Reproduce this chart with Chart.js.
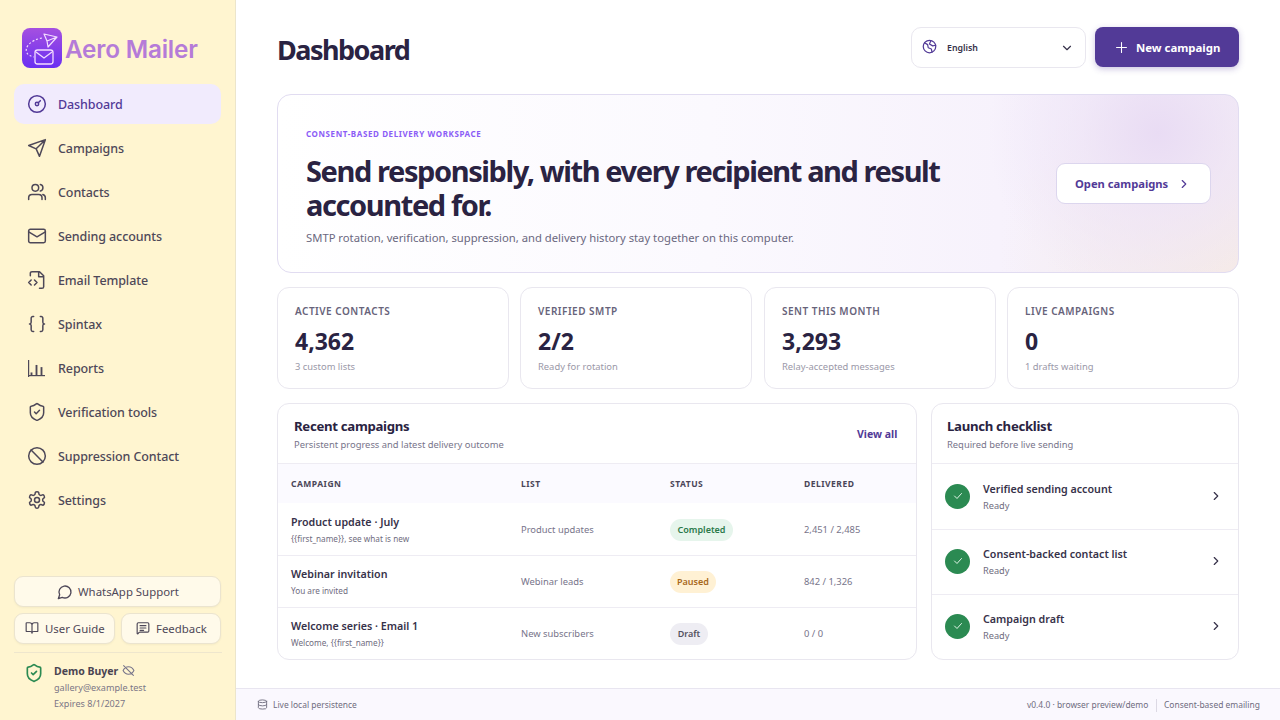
<!DOCTYPE html>
<html lang="en">
<head>
<meta charset="utf-8">
<title>Aero Mailer - Dashboard</title>
<script src="https://cdn.jsdelivr.net/npm/chart.js@4"></script>
<style>
  * { box-sizing: border-box; }
  html, body { margin: 0; width: 1280px; height: 720px; overflow: hidden; background: #fff; }
  body { font-family: "Noto Sans", sans-serif; color: #2a2342; position: relative; }
  .t { position: absolute; white-space: nowrap; line-height: 1; transform: translateY(-50%); }
  .box { position: absolute; background: #fff; border: 1px solid #e9e7ef; }
  .line { position: absolute; background: #eeecf3; height: 1px; }
  svg.i { position: absolute; fill: none; stroke: currentColor; stroke-width: 2; stroke-linecap: round; stroke-linejoin: round; }
  #sidebar { position: absolute; left: 0; top: 0; width: 236px; height: 720px; background: #fff5d0; border-right: 1px solid #ece5cb; }
  #active { position: absolute; left: 14px; top: 84px; width: 207px; height: 40px; background: #f1ebfd; border-radius: 10px; }
  .nav { font-size: 12.5px; font-weight: 500; letter-spacing: -0.1px; color: #4e4858; left: 58px; }
  .sbtn { position: absolute; background: #fffaea; border: 1px solid #ebe4cf; border-radius: 9px; box-shadow: 0 1px 2px rgba(60,50,20,.05); }
  .sbtn-t { font-size: 11.4px; color: #4e4858; }
  #hero { position: absolute; left: 277px; top: 94px; width: 962px; height: 179px; border: 1px solid #e1dcf1; border-radius: 14px;
    background: radial-gradient(circle 170px at 880px 38px, #e9dcf4 0%, rgba(238,228,247,.7) 45%, rgba(248,244,252,0) 100%),
      radial-gradient(circle 240px at 960px 185px, #f6ebe6 0%, rgba(248,240,240,0) 100%),
      linear-gradient(90deg, #fff 0%, #fbf9fe 45%, #f7f2fc 75%, #f2ecf8 100%); }
  #heroTitle { position: absolute; left: 306px; top: 154px; font-size: 29px; line-height: 34px; font-weight: 700; letter-spacing: -1.4px; white-space: nowrap; color: #2a2342; }
  .lbl { font-size: 10px; font-weight: 600; color: #67637a; letter-spacing: .5px; }
  .val { font-size: 23px; font-weight: 700; color: #2a2342; }
  .sub { font-size: 9.4px; color: #9a98a8; }
  .th { font-size: 8.5px; font-weight: 700; color: #4a4658; letter-spacing: .5px; }
  .name { font-size: 10.7px; font-weight: 600; color: #37324a; }
  .small { font-size: 8.2px; color: #6f6c7e; }
  .cell { font-size: 9.4px; color: #77748a; }
  .ptitle { font-size: 13.2px; font-weight: 700; letter-spacing: -0.3px; color: #2a2342; }
  .badge { position: absolute; height: 22px; border-radius: 11px; font-size: 9px; font-weight: 600; line-height: 22px; text-align: center; }
  #footer { position: absolute; left: 236px; top: 688px; width: 1044px; height: 32px; background: #faf8fe; border-top: 1px solid #e8e5f0; }
  .foot { font-size: 8.45px; color: #6f6c7e; }
</style>
</head>
<body>

<div id="sidebar"></div>
<svg style="position:absolute;left:22px;top:28px" width="40" height="40" viewBox="0 0 40 40">
  <defs><linearGradient id="lg" x1="0" y1="0" x2="0" y2="1"><stop offset="0" stop-color="#a550e0"/><stop offset="1" stop-color="#6a2ff2"/></linearGradient></defs>
  <rect width="40" height="40" rx="8" fill="url(#lg)"/>
  <path d="M22 6 L35 9 L26 19 L25 13 Z M25 13 L35 9" fill="none" stroke="#f3dcff" stroke-width="1.2" stroke-linejoin="round"/>
  <path d="M20 10 C8 12 2 20 5 25 C6 27 8 28 12 29" fill="none" stroke="#f3dcff" stroke-width="1.2" stroke-dasharray="2 2"/>
  <rect x="13" y="22" width="18" height="14" rx="2.5" fill="none" stroke="#f3dcff" stroke-width="1.3"/>
  <path d="M14 24 L22 30 L30 24" fill="none" stroke="#f3dcff" stroke-width="1.3"/>
</svg>
<div class="t" style="left:65px;top:49px;font-family:Inter,sans-serif;font-size:24.3px;font-weight:600;color:#b57bd8;letter-spacing:-.2px">Aero Mailer</div>
<div id="active"></div>
<div id="navHost"></div>
<!-- Reports icon: the only data marks on this screen, drawn by Chart.js -->
<canvas id="reportsIcon" width="20" height="20" style="position:absolute;left:27px;top:359px;width:20px;height:20px"></canvas>

<div class="sbtn" style="left:14px;top:576px;width:207px;height:31px"></div>
<svg class="i" viewBox="0 0 24 24" width="16" height="16" style="left:57px;top:584px;color:#4e4858"><path d="M7.9 20A9 9 0 1 0 4 16.1L2 22Z"/></svg>
<div class="t sbtn-t" style="left:78px;top:591.5px">WhatsApp Support</div>
<div class="sbtn" style="left:14px;top:613px;width:101px;height:31px"></div>
<svg class="i" viewBox="0 0 24 24" width="14" height="14" style="left:25px;top:621px;color:#4e4858"><path d="M12 7v14M3 18a1 1 0 0 1-1-1V4a1 1 0 0 1 1-1h5a4 4 0 0 1 4 4 4 4 0 0 1 4-4h5a1 1 0 0 1 1 1v13a1 1 0 0 1-1 1h-6a3 3 0 0 0-3 3 3 3 0 0 0-3-3z"/></svg>
<div class="t sbtn-t" style="left:45px;top:628.5px">User Guide</div>
<div class="sbtn" style="left:121px;top:613px;width:100px;height:31px"></div>
<svg class="i" viewBox="0 0 24 24" width="14" height="14" style="left:136px;top:621px;color:#4e4858"><path d="M22 17a2 2 0 0 1-2 2H6.8a2 2 0 0 0-1.4.6l-2.2 2.2A.7.7 0 0 1 2 21.3V5a2 2 0 0 1 2-2h16a2 2 0 0 1 2 2zM7 8h10M7 12h10M7 16h6"/></svg>
<div class="t sbtn-t" style="left:156px;top:628.5px">Feedback</div>
<div class="line" style="left:14px;top:652px;width:208px;background:#eee6cd"></div>
<svg class="i" viewBox="0 0 24 24" width="20" height="20" style="left:24px;top:663px;color:#2b8a52"><path d="M20 13c0 5-3.5 7.5-7.7 9a1 1 0 0 1-.6 0C7.5 20.5 4 18 4 13V6a1 1 0 0 1 1-1c2 0 4.5-1.2 6.2-2.7a1.2 1.2 0 0 1 1.6 0C14.5 3.8 17 5 19 5a1 1 0 0 1 1 1zM9 12l2 2 4-4"/></svg>
<div class="t" style="left:54px;top:671px;font-size:10.5px;font-weight:700;color:#4a4452">Demo Buyer</div>
<svg class="i" viewBox="0 0 24 24" width="13" height="13" style="left:122px;top:664px;color:#77748a"><path d="M2 12s3.5-7 10-7 10 7 10 7-3.500 7-10 7-10-7-10-7zM3 3l18 18"/></svg>
<div class="t" style="left:54px;top:688px;font-size:9.1px;color:#7b7686">gallery@example.test</div>
<div class="t" style="left:54px;top:704px;font-size:9.1px;color:#7b7686">Expires 8/1/2027</div>

<div class="t" style="left:277px;top:48.5px;font-size:27px;font-weight:700;letter-spacing:-1.5px;color:#2a2342">Dashboard</div>
<div class="box" style="left:911px;top:27px;width:175px;height:41px;border-radius:10px"></div>
<svg class="i" viewBox="0 0 24 24" width="15" height="15" style="left:922px;top:39px;color:#523a97"><circle cx="12" cy="12" r="10"/><path d="M4 6l5 3 1 5 5 2 1 5M14 3l-2 5 5 3 5-1"/></svg>
<div class="t" style="left:947px;top:48px;font-size:8.8px;font-weight:600;color:#37324a">English</div>
<svg class="i" viewBox="0 0 24 24" width="14" height="14" style="left:1060px;top:41px;color:#37324a"><path d="M6 9l6 6 6-6"/></svg>
<div style="position:absolute;left:1095px;top:27px;width:144px;height:40px;background:#523a97;border-radius:8px;box-shadow:0 2px 6px rgba(82,58,151,.3)"></div>
<svg class="i" viewBox="0 0 24 24" width="17" height="17" style="left:1113px;top:39px;color:#fff;stroke-width:1.5"><path d="M5 12h14M12 5v14"/></svg>
<div class="t" style="left:1136px;top:47.5px;font-size:11.4px;font-weight:700;color:#fff">New campaign</div>

<div id="hero"></div>
<div class="t" style="left:306px;top:134px;font-size:8px;font-weight:700;color:#8b5cf6;letter-spacing:.6px">CONSENT-BASED DELIVERY WORKSPACE</div>
<div id="heroTitle">Send responsibly, with every recipient and result<br>accounted for.</div>
<div class="t" style="left:306px;top:238px;font-size:11.25px;color:#6b6880">SMTP rotation, verification, suppression, and delivery history stay together on this computer.</div>
<div class="box" style="left:1056px;top:163px;width:155px;height:41px;border-radius:9px;border-color:#dcd6ee"></div>
<div class="t" style="left:1075px;top:184px;font-size:11.2px;font-weight:700;color:#523a97">Open campaigns</div>
<svg class="i" viewBox="0 0 24 24" width="14" height="14" style="left:1177px;top:177px;color:#523a97"><path d="M9 6l6 6-6 6"/></svg>

<div id="kpiHost"></div>

<div class="box" style="left:277px;top:403px;width:640px;height:257px;border-radius:12px"></div>
<div class="t ptitle" style="left:294px;top:426.5px">Recent campaigns</div>
<div class="t sub" style="left:294px;top:444.5px;color:#77748a">Persistent progress and latest delivery outcome</div>
<div class="t" style="left:857px;top:434px;font-size:10.5px;font-weight:700;color:#523a97">View all</div>
<div style="position:absolute;left:278px;top:463px;width:638px;height:40px;background:#fbfaff;border-top:1px solid #eeecf3"></div>
<div id="tableHost"></div>

<div class="box" style="left:931px;top:403px;width:308px;height:257px;border-radius:12px"></div>
<div class="t ptitle" style="left:947px;top:426.5px">Launch checklist</div>
<div class="t sub" style="left:947px;top:444.5px;color:#77748a">Required before live sending</div>
<div class="line" style="left:932px;top:463px;width:306px"></div>
<div id="checkHost"></div>

<div id="footer"></div>
<svg class="i" viewBox="0 0 24 24" width="11" height="11" style="left:257px;top:699px;color:#6f6c7e"><ellipse cx="12" cy="5" rx="9" ry="3"/><path d="M3 5v14a9 3 0 0 0 18 0V5M3 12a9 3 0 0 0 18 0"/></svg>
<div class="t foot" style="left:273px;top:705px">Live local persistence</div>
<div class="t foot" style="left:1027px;top:705px">v0.4.0 · browser preview/demo</div>
<div style="position:absolute;left:1156px;top:699px;width:1px;height:13px;background:#dcd9e4"></div>
<div class="t foot" style="left:1164px;top:705px">Consent-based emailing</div>

<script>
var navLabels = ["Dashboard", "Campaigns", "Contacts", "Sending accounts", "Email Template", "Spintax", "Reports", "Verification tools", "Suppression Contact", "Settings"];
var navIcons = [
    '<circle cx="12" cy="12" r="10"/><circle cx="12" cy="12" r="2"/><path d="M13.5 10.5L16 8"/>',
    '<path d="M22 2L15 22l-4-9-9-4zM11 13l11-11"/>',
    '<circle cx="10" cy="7" r="4"/><path d="M2 21v-2a4 4 0 0 1 4-4h8a4 4 0 0 1 4 4v2M16 3.1a4 4 0 0 1 0 7.8M22 21v-2a4 4 0 0 0-3-3.9"/>',
    '<rect x="2" y="4" width="20" height="16" rx="2"/><path d="M2 7l10 6 10-6"/>',
    '<path d="M4 7V4a2 2 0 0 1 2-2h9l5 5v13a2 2 0 0 1-2 2h-3M14 2v6h6M5 12l-3 3 3 3M9 18l3-3-3-3"/>',
    '<path d="M8 3H7a2 2 0 0 0-2 2v5a2 2 0 0 1-2 2 2 2 0 0 1 2 2v5a2 2 0 0 0 2 2h1M16 21h1a2 2 0 0 0 2-2v-5a2 2 0 0 1 2-2 2 2 0 0 1-2-2V5a2 2 0 0 0-2-2h-1"/>',
    '',
    '<path d="M20 13c0 5-3.5 7.5-7.7 9a1 1 0 0 1-.6 0C7.5 20.5 4 18 4 13V6a1 1 0 0 1 1-1c2 0 4.5-1.2 6.2-2.7a1.2 1.2 0 0 1 1.6 0C14.5 3.8 17 5 19 5a1 1 0 0 1 1 1zM9 12l2 2 4-4"/>',
    '<circle cx="12" cy="12" r="10"/><path d="M4.9 4.9l14.2 14.2"/>',
    '<circle cx="12" cy="12" r="3"/><path d="M12.2 2h-.4a2 2 0 0 0-2 2v.2a2 2 0 0 1-1 1.7l-.4.3a2 2 0 0 1-2 0l-.2-.1a2 2 0 0 0-2.7.7l-.2.4a2 2 0 0 0 .7 2.7l.2.1a2 2 0 0 1 1 1.7v.5a2 2 0 0 1-1 1.7l-.2.1a2 2 0 0 0-.7 2.7l.2.4a2 2 0 0 0 2.7.7l.2-.1a2 2 0 0 1 2 0l.4.3a2 2 0 0 1 1 1.7v.2a2 2 0 0 0 2 2h.4a2 2 0 0 0 2-2v-.2a2 2 0 0 1 1-1.7l.4-.3a2 2 0 0 1 2 0l.2.1a2 2 0 0 0 2.7-.7l.2-.4a2 2 0 0 0-.7-2.7l-.2-.1a2 2 0 0 1-1-1.7v-.5a2 2 0 0 1 1-1.7l.2-.1a2 2 0 0 0 .7-2.7l-.2-.4a2 2 0 0 0-2.7-.7l-.2.1a2 2 0 0 1-2 0l-.4-.3a2 2 0 0 1-1-1.7V4a2 2 0 0 0-2-2z"/>'
];

var kpiLabels = ["ACTIVE CONTACTS", "VERIFIED SMTP", "SENT THIS MONTH", "LIVE CAMPAIGNS"];
var kpiValues = ["4,362", "2/2", "3,293", "0"];
var kpiNotes = ["3 custom lists", "Ready for rotation", "Relay-accepted messages", "1 drafts waiting"];

var tableHeaders = ["CAMPAIGN", "LIST", "STATUS", "DELIVERED"];
var campaignNames = ["Product update · July", "Webinar invitation", "Welcome series · Email 1"];
var campaignSubjects = ["{{first_name}}, see what is new", "You are invited", "Welcome, {{first_name}}"];
var campaignLists = ["Product updates", "Webinar leads", "New subscribers"];
var campaignStatus = ["Completed", "Paused", "Draft"];
var campaignDelivered = ["2,451 / 2,485", "842 / 1,326", "0 / 0"];

var checklistItems = ["Verified sending account", "Consent-backed contact list", "Campaign draft"];
var checklistState = ["Ready", "Ready", "Ready"];

// bar heights of the little Reports glyph
var reportBars = [3, 10, 8];
var reportBarLabels = ["a", "b", "c"];

var html = "";
navLabels.forEach(function(label, i) {
    var y = 104 + i * 44;
    var col = i === 0 ? "#523a97" : "#4e4858";
    if (navIcons[i]) {
        html += '<svg class="i" viewBox="0 0 24 24" width="20" height="20" style="left:27px;top:' + (y - 10) + 'px;color:' + col + ';stroke-width:1.8">' + navIcons[i] + '</svg>';
    }
    html += '<div class="t nav" style="top:' + (y + 0.5) + 'px;color:' + col + '">' + label + '</div>';
});
document.getElementById("navHost").innerHTML = html;

var kpiX = [277, 520, 764, 1007];
html = "";
kpiLabels.forEach(function(label, i) {
    var x = kpiX[i];
    html += '<div class="box" style="left:' + x + 'px;top:287px;width:232px;height:102px;border-radius:12px"></div>';
    html += '<div class="t lbl" style="left:' + (x + 18) + 'px;top:311px">' + label + '</div>';
    html += '<div class="t val" style="left:' + (x + 18) + 'px;top:341px">' + kpiValues[i] + '</div>';
    html += '<div class="t sub" style="left:' + (x + 18) + 'px;top:366.5px">' + kpiNotes[i] + '</div>';
});
document.getElementById("kpiHost").innerHTML = html;

var colX = [291, 521, 670, 804];
var badgeStyle = {
    Completed: { w: 63, bg: "#e6f5ec", fg: "#2b7a4b" },
    Paused: { w: 46, bg: "#fff1d4", fg: "#a8681a" },
    Draft: { w: 38, bg: "#eeedf3", fg: "#55525f" }
};
html = "";
tableHeaders.forEach(function(h, i) {
    html += '<div class="t th" style="left:' + colX[i] + 'px;top:484px">' + h + '</div>';
});
campaignNames.forEach(function(name, i) {
    var top = 503 + i * 52;
    if (i > 0) html += '<div class="line" style="left:278px;top:' + top + 'px;width:638px"></div>';
    html += '<div class="t name" style="left:291px;top:' + (top + 18.5) + 'px">' + name + '</div>';
    html += '<div class="t small" style="left:291px;top:' + (top + 36) + 'px">' + campaignSubjects[i] + '</div>';
    html += '<div class="t cell" style="left:521px;top:' + (top + 27) + 'px">' + campaignLists[i] + '</div>';
    var b = badgeStyle[campaignStatus[i]];
    html += '<div class="badge" style="left:670px;top:' + (top + 16) + 'px;width:' + b.w + 'px;background:' + b.bg + ';color:' + b.fg + '">' + campaignStatus[i] + '</div>';
    html += '<div class="t cell" style="left:804px;top:' + (top + 27) + 'px">' + campaignDelivered[i] + '</div>';
});
document.getElementById("tableHost").innerHTML = html;

html = "";
checklistItems.forEach(function(item, i) {
    var cy = 496 + i * 65;
    if (i > 0) html += '<div class="line" style="left:932px;top:' + (cy - 32) + 'px;width:306px"></div>';
    html += '<div style="position:absolute;left:945px;top:' + (cy - 12.5) + 'px;width:25px;height:25px;border-radius:50%;background:#2b8a52"></div>';
    html += '<svg class="i" viewBox="0 0 24 24" width="12" height="12" style="left:951.5px;top:' + (cy - 6) + 'px;color:#dff3e6"><path d="M5 12l5 5 9-10"/></svg>';
    html += '<div class="t name" style="left:983px;top:' + (cy - 7.5) + 'px">' + item + '</div>';
    html += '<div class="t small" style="left:983px;top:' + (cy + 10) + 'px;font-size:9.2px">' + checklistState[i] + '</div>';
    html += '<svg class="i" viewBox="0 0 24 24" width="14" height="14" style="left:1209px;top:' + (cy - 7) + 'px;color:#37324a"><path d="M9 6l6 6-6 6"/></svg>';
});
document.getElementById("checkHost").innerHTML = html;

new Chart(document.getElementById("reportsIcon"), {
    type: "bar",
    data: {
        labels: reportBarLabels,
        datasets: [{ data: reportBars, backgroundColor: "#4e4858", barThickness: 1.2 }]
    },
    options: {
        responsive: false,
        animation: false,
        events: [],
        layout: { padding: { left: 2, right: 3, top: 2, bottom: 3 } },
        plugins: { legend: { display: false }, tooltip: { enabled: false } },
        scales: {
            x: { grid: { display: false, drawTicks: false }, ticks: { display: false }, border: { color: "#4e4858", width: 1.2 } },
            y: { min: 0, max: 14, grid: { display: false, drawTicks: false }, ticks: { display: false }, border: { color: "#4e4858", width: 1.2 } }
        }
    }
});
</script>
</body>
</html>
